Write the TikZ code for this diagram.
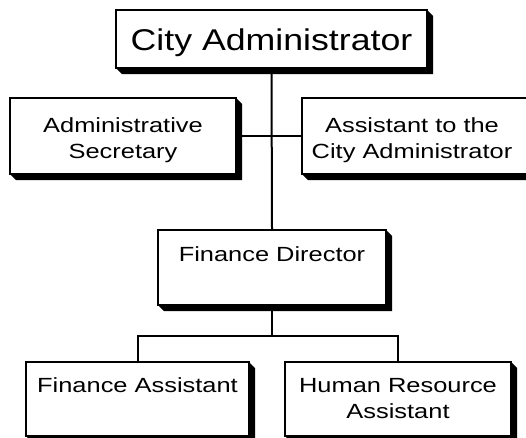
\documentclass[tikz,border=0pt]{standalone}
\usepackage{fontspec}
\usetikzlibrary{calc}
\setmainfont{Liberation Sans}
\newfontfamily\bigfam{Liberation Sans}[FakeStretch=1.19]
\newfontfamily\smallfam{Liberation Sans}[FakeStretch=1.24]
\tikzset{
  orgbox/.style={draw=black, fill=white, line width=2pt, rectangle, inner sep=0pt},
  linkline/.style={draw=black, line width=2pt},
  bigtxt/.style={font=\bigfam\fontsize{30}{36}\selectfont, inner sep=0pt, anchor=base},
  smalltxt/.style={font=\smallfam\fontsize{20.5}{25}\selectfont, inner sep=0pt, anchor=base},
}
% #1 name, #2 x1, #3 y1, #4 x2, #5 y2
\newcommand{\orgshadowbox}[5]{%
  \fill[black] (#4,#3) -- (#4+6,#3+6) -- (#4+6,#5+6) -- (#2+6,#5+6) -- (#2,#5) -- cycle;
  \node[orgbox, minimum width={#4-#2}, minimum height={#5-#3}] (#1) at ({(#2+#4)/2},{(#3+#5)/2}) {};
}
\begin{document}
\begin{tikzpicture}[x=1pt, y=-1pt]
\useasboundingbox (0,0) rectangle (526,437);

\orgshadowbox{ca}{116}{10}{427}{68}
\orgshadowbox{as}{10}{98}{236}{174}
\orgshadowbox{at}{302}{98}{540}{174}
\orgshadowbox{fd}{158}{230}{386}{305}
\orgshadowbox{fa}{26}{362}{249}{436}
\orgshadowbox{hr}{285}{362}{511}{436}

% texts
\node[bigtxt] (caT) at (271.5,50) {City Administrator};
\node[smalltxt] (asT1) at (123,132) {Administrative};
\node[smalltxt] (asT2) at (123,158) {Secretary};
\node[smalltxt] (atT1) at (412,132) {Assistant to the};
\node[smalltxt] (atT2) at (412,158) {City Administrator};
\node[smalltxt] (fdT) at (272,261) {Finance Director};
\node[smalltxt] (faT) at (137.5,392) {Finance Assistant};
\node[smalltxt] (hrT1) at (398,392) {Human Resource};
\node[smalltxt] (hrT2) at (398,418) {Assistant};

% connectors
\coordinate (bus) at ($(fd.south)+(0,30)$);
\draw[linkline] (ca.south) -- (fd.north);
\draw[linkline] (as.east) -- (at.west);
\draw[linkline] (fd.south) -- (bus) -| (fa.north);
\draw[linkline] (bus) -| (hr.north);
\end{tikzpicture}
\end{document}
